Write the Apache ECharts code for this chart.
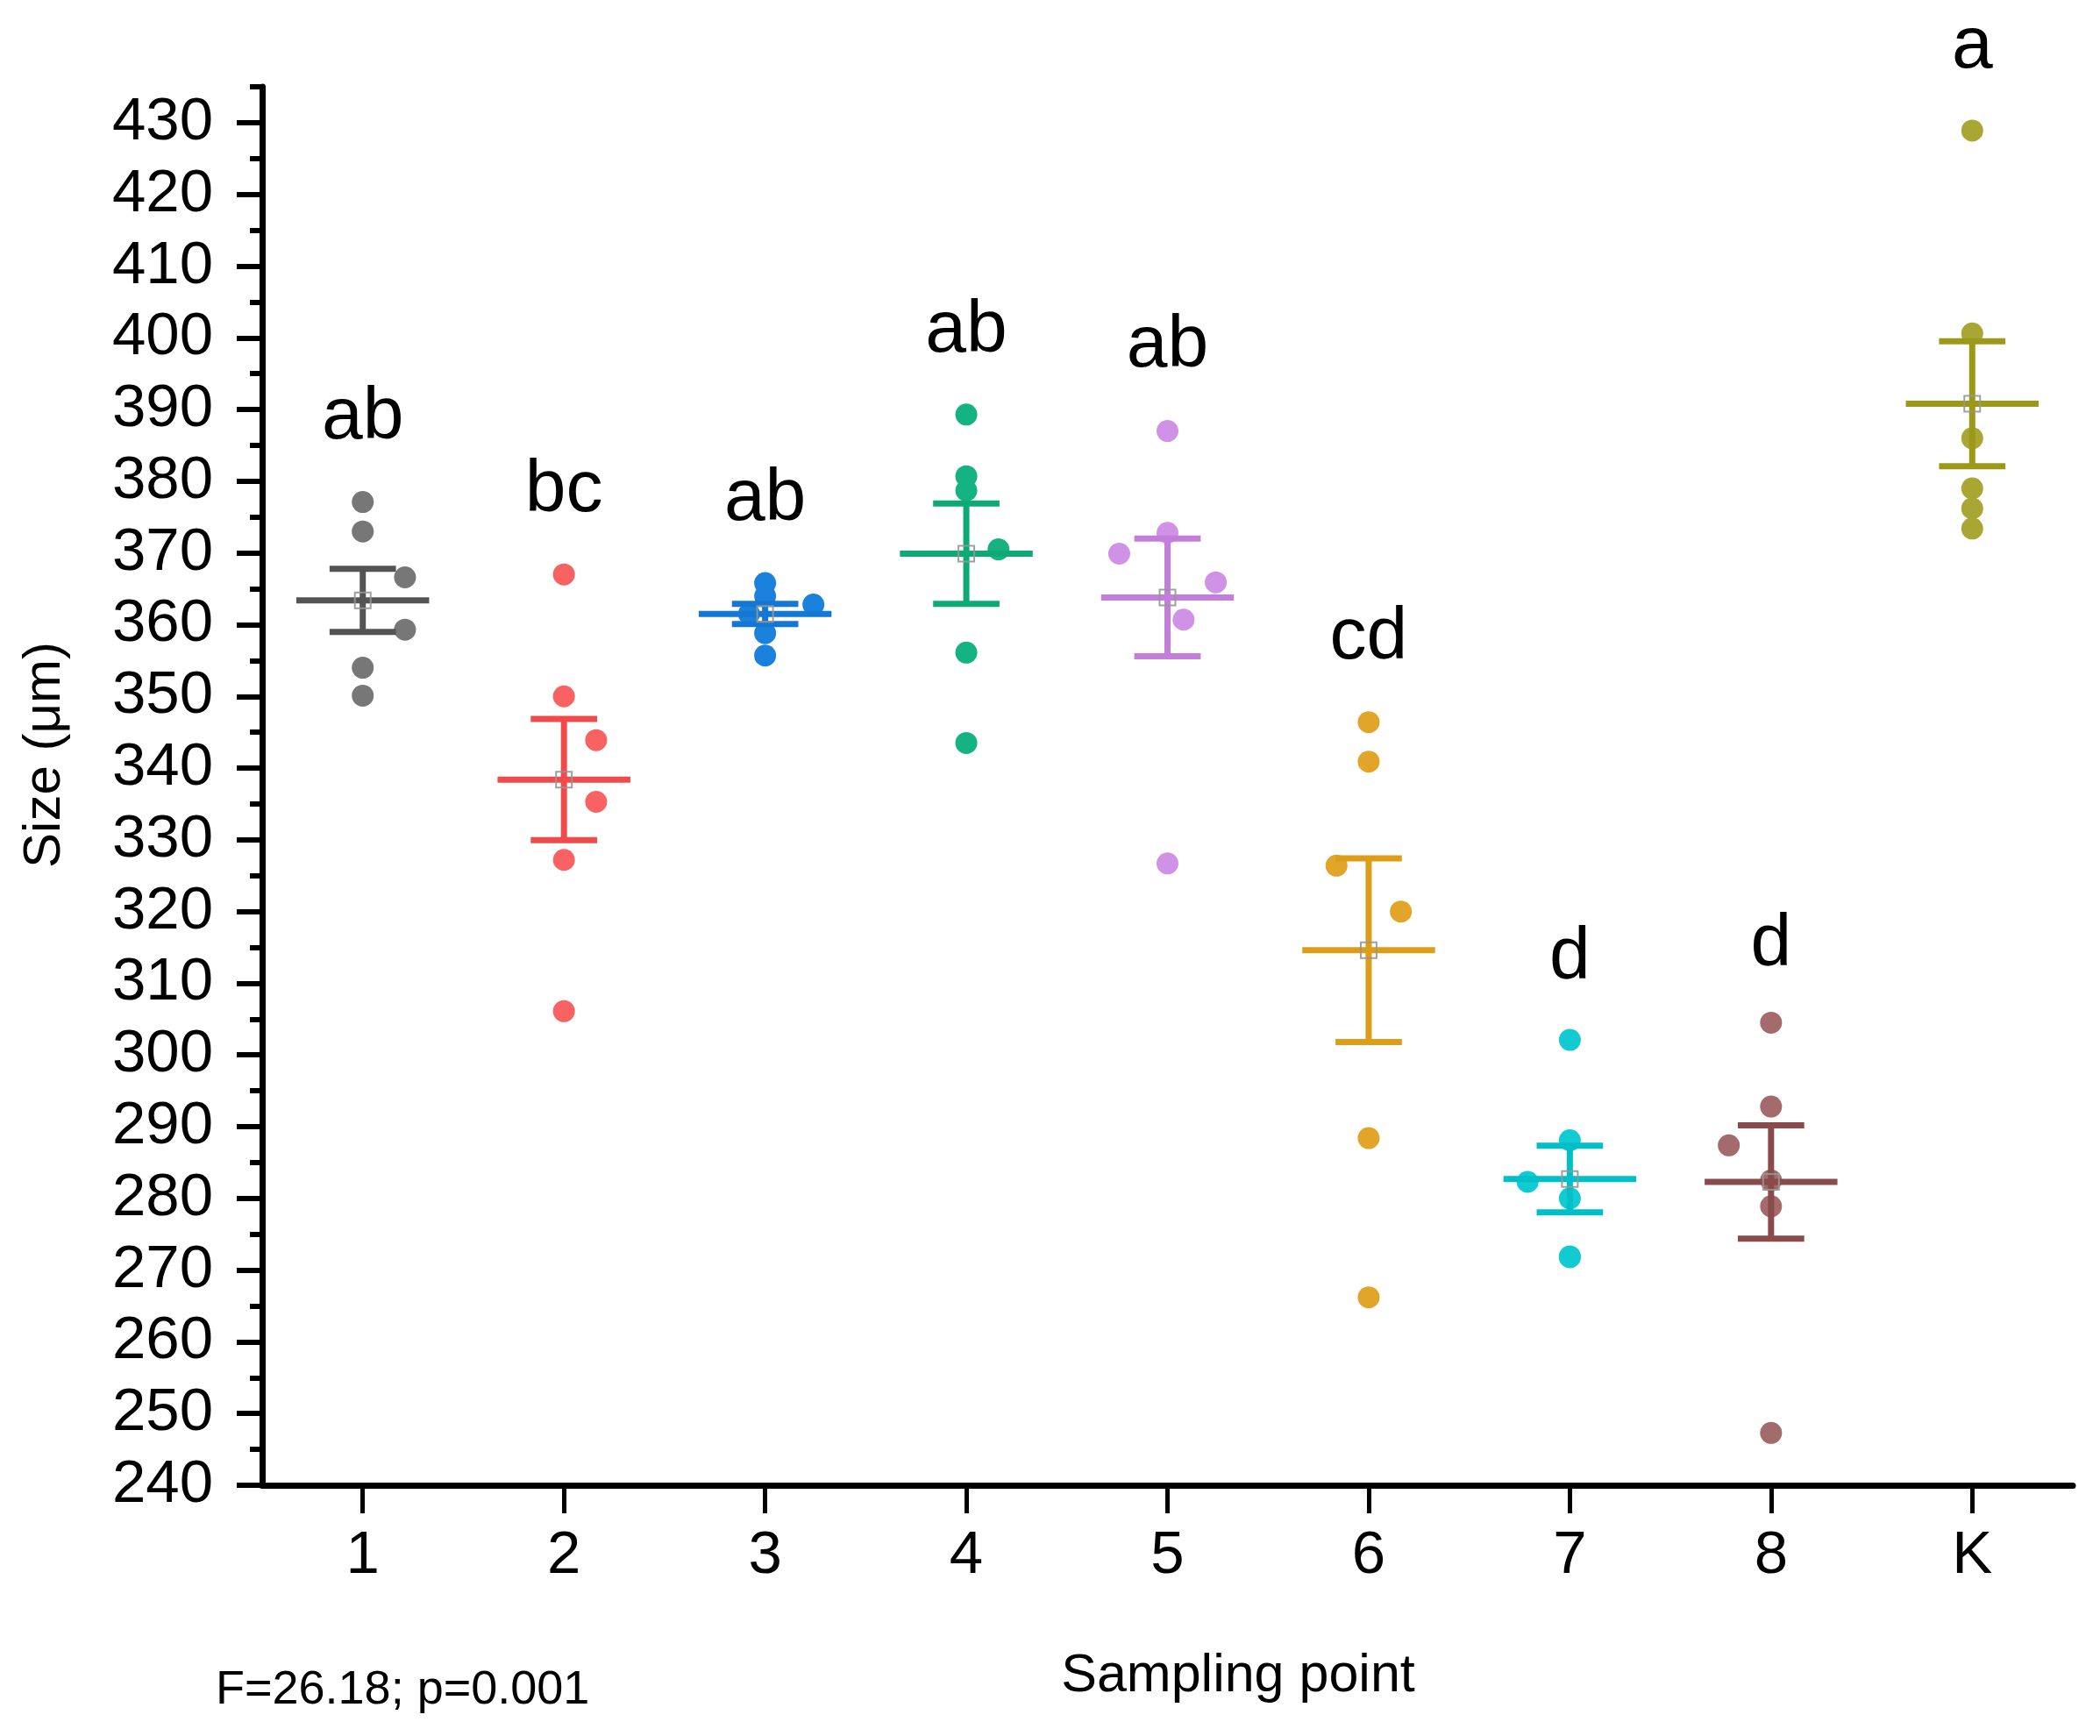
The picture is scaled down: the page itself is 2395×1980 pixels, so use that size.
<!DOCTYPE html>
<html lang="en">

<head>
  <meta charset="UTF-8">
  <title>Size by sampling point</title>
  <style>
    html, body { margin: 0; padding: 0; background: #fff; }
  </style>
</head>

<body>
  <div id="main" style="width: 2395px;height: 1980px;"></div>
</body>
<script src="https://cdn.jsdelivr.net/npm/echarts@6.0.0/dist/echarts.min.js"></script>
<script>
  var categories = ['1', '2', '3', '4', '5', '6', '7', '8', 'K'];
  var yTickValues = [240, 250, 260, 270, 280, 290, 300, 310, 320, 330, 340, 350, 360, 370, 380, 390, 400, 410, 420, 430];

  // single measurements per sampling point
  var pointValues = [
    [377.1, 373.0, 366.6, 359.3, 354.0, 350.1],
    [367.0, 350.0, 343.9, 335.3, 327.2, 306.1],
    [365.8, 364.0, 361.5, 362.8, 358.8, 355.7],
    [389.3, 380.7, 378.7, 370.5, 356.1, 343.5],
    [387.0, 372.8, 369.9, 365.9, 360.7, 326.7],
    [346.4, 340.9, 326.4, 320.0, 288.4, 266.2],
    [302.1, 288.1, 282.3, 280.0, 271.9, 271.8],
    [304.5, 292.8, 287.4, 282.5, 278.9, 247.3],
    [428.9, 400.6, 386.0, 379.0, 376.2, 373.4]
  ];
  // horizontal jitter of the points, in category widths
  var pointShift = [
    [0, 0, 0.21, 0.21, 0, 0],
    [0, 0, 0.16, 0.16, 0, 0],
    [0, 0, -0.08, 0.24, 0, 0],
    [0, 0, 0, 0.16, 0, 0],
    [0, 0, -0.24, 0.24, 0.08, 0],
    [0, 0, -0.16, 0.16, 0, 0],
    [0, 0, -0.21, 0, 0, 0],
    [0, 0, -0.21, 0, 0, 0],
    [0, 0, 0, 0, 0, 0]
  ];

  var means = [363.4, 338.4, 361.5, 369.9, 363.8, 314.6, 282.7, 282.3, 390.8];
  var se = [4.4, 8.45, 1.4, 7.0, 8.2, 12.8, 4.65, 7.9, 8.7];

  var letters = ['ab', 'bc', 'ab', 'ab', 'ab', 'cd', 'd', 'd', 'a'];
  var letterY = [388.8, 378.7, 377.4, 400.9, 398.8, 358.1, 313.5, 315.3, 440.5];

  var pointColors = ['#777777', '#f86262', '#1a82dc', '#16b382', '#d092e6', '#e2a52a', '#12cad2', '#a36b6b', '#a9a633'];
  var barColors = ['#545454', '#f04a4a', '#1577d4', '#0eaa76', '#c27ed8', '#dc9e18', '#00bfc8', '#8a4b4b', '#9c9818'];

  var FONT = "'Liberation Sans', Arial, sans-serif";

  var chartDom = document.getElementById('main');
  var myChart = echarts.init(chartDom);
  var option;

  var series = [];

  // points, one series per sampling point
  for (var i = 0; i < categories.length; i++) {
    var d = [];
    for (var j = 0; j < pointValues[i].length; j++) {
      d.push([i + pointShift[i][j], pointValues[i][j]]);
    }
    series.push({
      name: categories[i],
      type: 'scatter',
      xAxisIndex: 1,
      yAxisIndex: 0,
      symbol: 'circle',
      symbolSize: 25,
      itemStyle: { color: pointColors[i], opacity: 1 },
      data: d,
      z: 2
    });
  }

  // mean +- SE
  var barData = [];
  for (var k = 0; k < categories.length; k++) {
    barData.push([k, means[k], se[k]]);
  }
  series.push({
    type: 'custom',
    xAxisIndex: 1,
    yAxisIndex: 0,
    data: barData,
    z: 3,
    renderItem: function (params, api) {
      var x = api.value(0), m = api.value(1), s = api.value(2);
      var c = api.coord([x, m]);
      var top = api.coord([x, m + s])[1];
      var bot = api.coord([x, m - s])[1];
      var band = api.size([1, 0])[0];
      var capW = band * 0.165;
      var meanW = band * 0.33;
      var col = barColors[params.dataIndex];
      function st() { return { stroke: col, lineWidth: 7 }; }
      return {
        type: 'group',
        children: [
          { type: 'line', shape: { x1: c[0], y1: top, x2: c[0], y2: bot }, style: st() },
          { type: 'line', shape: { x1: c[0] - capW, y1: top, x2: c[0] + capW, y2: top }, style: st() },
          { type: 'line', shape: { x1: c[0] - capW, y1: bot, x2: c[0] + capW, y2: bot }, style: st() },
          { type: 'line', shape: { x1: c[0] - meanW, y1: c[1], x2: c[0] + meanW, y2: c[1] }, style: st() },
          {
            type: 'rect',
            shape: { x: c[0] - 9, y: c[1] - 9, width: 18, height: 18 },
            style: { fill: 'rgba(0,0,0,0)', stroke: 'rgba(150,150,150,0.9)', lineWidth: 2 }
          }
        ]
      };
    }
  });

  // significance letters
  var letterData = [];
  for (var n = 0; n < categories.length; n++) {
    letterData.push([n, letterY[n]]);
  }
  series.push({
    type: 'custom',
    xAxisIndex: 1,
    yAxisIndex: 0,
    clip: false,
    data: letterData,
    z: 4,
    renderItem: function (params, api) {
      var p = api.coord([api.value(0), api.value(1)]);
      return {
        type: 'text',
        x: p[0],
        y: p[1],
        style: {
          text: letters[params.dataIndex],
          font: '84px ' + FONT,
          fill: '#000',
          textAlign: 'center',
          textVerticalAlign: 'middle'
        }
      };
    }
  });

  option = {
    animation: false,
    backgroundColor: '#fff',
    grid: {
      left: 299,
      right: 31,
      top: 99,
      bottom: 286
    },
    xAxis: [
      {
        type: 'category',
        data: categories,
        boundaryGap: true,
        axisLine: { show: true, onZero: false, lineStyle: { color: '#000', width: 7 } },
        axisTick: { show: true, alignWithLabel: true, length: 32, lineStyle: { color: '#000', width: 5 } },
        axisLabel: { fontFamily: FONT, fontSize: 69, color: '#000', margin: 46, interval: 0 },
        splitLine: { show: false }
      },
      {
        type: 'value',
        min: -0.5,
        max: 8.5,
        show: false
      }
    ],
    yAxis: [
      {
        type: 'value',
        min: 240,
        max: 435,
        interval: 10,
        axisLine: { show: true, onZero: false, lineStyle: { color: '#000', width: 7 } },
        axisTick: { show: true, length: 29, lineStyle: { color: '#000', width: 6 }, customValues: yTickValues },
        axisLabel: { fontFamily: FONT, fontSize: 69, color: '#000', margin: 56, customValues: yTickValues },
        splitLine: { show: false }
      },
      {
        type: 'value',
        min: 240,
        max: 435,
        interval: 5,
        position: 'left',
        axisLine: { show: false, onZero: false },
        axisTick: { show: true, length: 14, lineStyle: { color: '#000', width: 6 } },
        axisLabel: { show: false },
        splitLine: { show: false }
      }
    ],
    graphic: [
      {
        type: 'text',
        x: 51,
        y: 861,
        rotation: Math.PI / 2,
        style: {
          text: 'Size (μm)',
          font: '60px ' + FONT,
          fill: '#000',
          textAlign: 'center',
          textVerticalAlign: 'middle'
        }
      },
      {
        type: 'text',
        x: 1412,
        y: 1912,
        style: {
          text: 'Sampling point',
          font: '61px ' + FONT,
          fill: '#000',
          textAlign: 'center',
          textVerticalAlign: 'middle'
        }
      },
      {
        type: 'text',
        x: 246,
        y: 1928,
        style: {
          text: 'F=26.18; p=0.001',
          font: '54px ' + FONT,
          fill: '#000',
          textAlign: 'left',
          textVerticalAlign: 'middle'
        }
      }
    ],
    series: series
  };

  option && myChart.setOption(option);
</script>

</html>
